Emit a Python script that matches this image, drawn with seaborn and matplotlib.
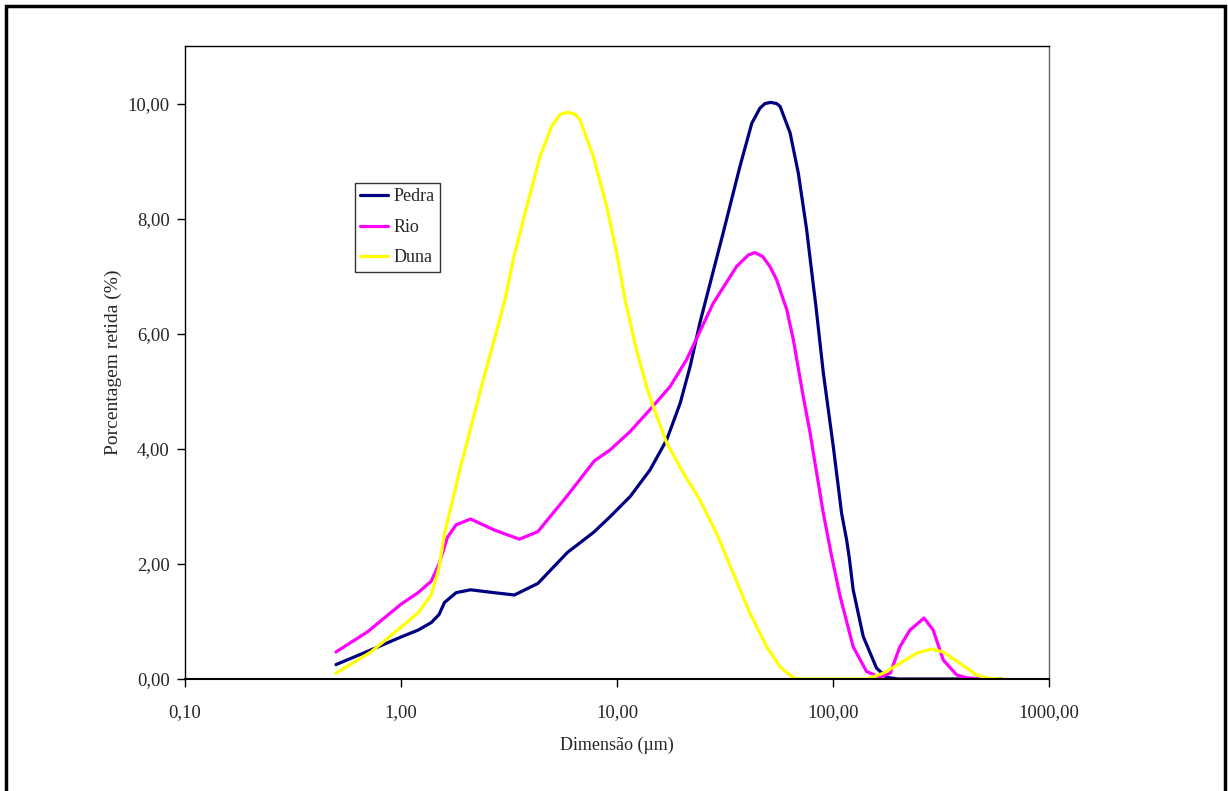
import numpy as np
import pandas as pd
import matplotlib
matplotlib.use("Agg")
import matplotlib.pyplot as plt
from matplotlib.ticker import FixedLocator, FuncFormatter, NullLocator
from matplotlib.patches import Rectangle
import seaborn as sns

# Curvas granulométricas (dimensão em µm, % retida)
pedra_x = [0.5, 0.7, 1.0, 1.2, 1.38, 1.5, 1.59, 1.8, 2.1, 2.7, 3.35, 4.3, 5.9, 7.8,
           9.29, 11.5, 14.2, 17.0, 19.6, 21.8, 24.2, 31.0, 37.1, 42.1, 45.9, 48.4,
           51.5, 54.8, 56.9, 63.3, 69.1, 75.5, 80.5, 83.4, 90.2, 100.3, 109.6, 115.6,
           119, 124, 138, 159, 177, 200, 300, 400, 600]
pedra_y = [0.25, 0.48, 0.73, 0.85, 0.98, 1.12, 1.33, 1.50, 1.55, 1.50, 1.46, 1.66, 2.20, 2.55,
           2.82, 3.17, 3.63, 4.16, 4.79, 5.43, 6.19, 7.75, 8.91, 9.66, 9.92, 10.00,
           10.02, 10.00, 9.95, 9.49, 8.79, 7.81, 6.94, 6.47, 5.32, 4.04, 2.88, 2.42,
           2.10, 1.55, 0.74, 0.19, 0.03, 0.0, 0.0, 0.0, 0.0]

rio_x = [0.5, 0.7, 1.0, 1.2, 1.38, 1.5, 1.64, 1.8, 2.1, 2.7, 3.53, 4.3, 5.9, 7.85,
         9.29, 11.5, 14.2, 17.6, 21.0, 24.2, 27.9, 35.8, 40.6, 43.5, 47.3, 51.0, 54.8,
         58.9, 61.1, 65.5, 72.8, 78.4, 81.1, 90.2, 98.6, 108, 124, 143, 165, 184,
         204, 227, 264, 291, 324, 374, 416, 500, 600]
rio_y = [0.47, 0.82, 1.30, 1.50, 1.70, 2.00, 2.46, 2.68, 2.78, 2.59, 2.43, 2.56, 3.19, 3.79,
         3.98, 4.30, 4.68, 5.08, 5.55, 6.04, 6.53, 7.17, 7.37, 7.41, 7.34, 7.17, 6.94,
         6.59, 6.42, 5.90, 4.91, 4.27, 3.93, 2.88, 2.13, 1.43, 0.56, 0.13, 0.03, 0.10,
         0.56, 0.85, 1.06, 0.85, 0.33, 0.07, 0.02, 0.0, 0.0]

duna_x = [0.5, 0.726, 1.0, 1.2, 1.38, 1.5, 1.59, 1.9, 2.35, 3.03, 3.31, 3.82, 4.40, 4.99,
          5.45, 5.89, 6.4, 6.74, 7.77, 8.96, 9.97, 10.9, 12.3, 13.7, 14.7, 17.0, 20.3,
          24.2, 28.9, 34.5, 41.3, 49.3, 56.9, 65.5, 70, 100, 143, 171, 204, 244, 286,
          324, 387, 462, 513, 600]
duna_y = [0.10, 0.47, 0.90, 1.15, 1.46, 1.93, 2.53, 3.73, 5.06, 6.59, 7.29, 8.21, 9.08, 9.61,
          9.81, 9.85, 9.81, 9.72, 9.08, 8.21, 7.40, 6.59, 5.72, 5.08, 4.74, 4.10, 3.58,
          3.11, 2.53, 1.84, 1.14, 0.56, 0.21, 0.02, 0.0, 0.0, 0.0, 0.10, 0.27, 0.45, 0.52,
          0.47, 0.27, 0.07, 0.02, 0.0]

series = ["Pedra", "Rio", "Duna"]
cores = {"Pedra": "#000080", "Rio": "#FF00FF", "Duna": "#FFFF00"}
x_ticks = [0.1, 1, 10, 100, 1000]
y_ticks = [0, 2, 4, 6, 8, 10]


def virgula(v, pos=None):
    return f"{v:.2f}".replace(".", ",")


dados = pd.concat([
    pd.DataFrame({"Dimensao": pedra_x, "Retida": pedra_y, "Amostra": "Pedra"}),
    pd.DataFrame({"Dimensao": rio_x, "Retida": rio_y, "Amostra": "Rio"}),
    pd.DataFrame({"Dimensao": duna_x, "Retida": duna_y, "Amostra": "Duna"}),
], ignore_index=True)

sns.set_style("white")
plt.rcParams["font.family"] = ["Liberation Serif", "DejaVu Serif"]

fig = plt.figure(figsize=(12.28, 7.91), dpi=100)
ax = fig.add_axes([185 / 1228, 112 / 791, 864 / 1228, 633 / 791])

sns.lineplot(data=dados, x="Dimensao", y="Retida", hue="Amostra", hue_order=series,
             palette=cores, linewidth=2.3, sort=False, estimator=None, ax=ax)

ax.set_xscale("log")
ax.set_xlim(0.1, 1000)
ax.set_ylim(0, 11)
ax.xaxis.set_major_locator(FixedLocator(x_ticks))
ax.xaxis.set_minor_locator(NullLocator())
ax.xaxis.set_major_formatter(FuncFormatter(virgula))
ax.yaxis.set_major_locator(FixedLocator(y_ticks))
ax.yaxis.set_major_formatter(FuncFormatter(virgula))
ax.tick_params(axis="both", direction="out", length=6, width=1, color="black",
               labelsize=13.5, pad=5, bottom=True, left=True)
ax.tick_params(axis="x", pad=12)

for s in ax.spines.values():
    s.set_visible(True)
    s.set_color("black")
    s.set_linewidth(1.0)
ax.spines["bottom"].set_linewidth(1.5)
ax.spines["right"].set_color("#606060")

ax.set_xlabel("Dimensão (µm)", fontsize=13, labelpad=11.5)
ax.set_ylabel("Porcentagem retida (%)", fontsize=14, labelpad=4)

leg = ax.legend(loc="upper left", bbox_to_anchor=(170 / 864, 496 / 633), fontsize=13,
                frameon=True, fancybox=False, handlelength=1.55, handletextpad=0.28,
                borderpad=0.3, labelspacing=0.75, borderaxespad=0)
leg.get_frame().set_edgecolor("black")
leg.get_frame().set_linewidth(1.0)

# moldura externa do gráfico
fig.patches.append(Rectangle((6 / 1228, -0.02), 1219 / 1228, 1.0 - 6 / 791 + 0.02,
                             transform=fig.transFigure, fill=False,
                             edgecolor="black", linewidth=2.5))

fig.savefig("out.png", dpi=100)
